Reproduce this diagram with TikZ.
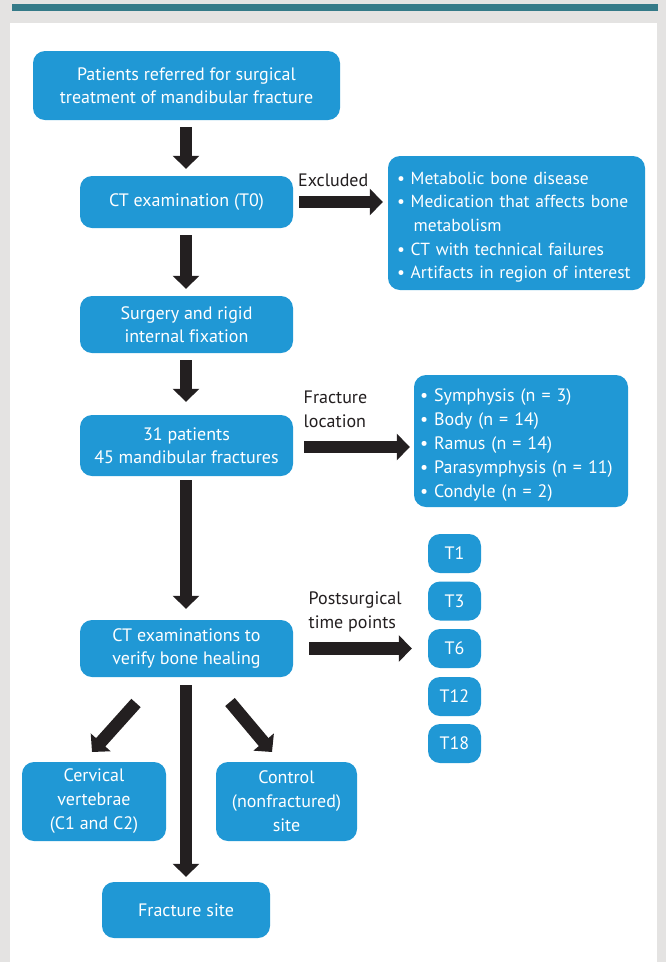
\documentclass[tikz,border=0pt]{standalone}
\usepackage{fontspec}
\setmainfont[Ligatures=CommonOff]{PT Sans}
\usetikzlibrary{arrows.meta,calc}
\definecolor{boxblue}{HTML}{2098D5}
\definecolor{tealbar}{HTML}{347A88}
\definecolor{bggray}{HTML}{E4E3E2}
\definecolor{arrowblack}{HTML}{231F20}
\hbadness=10000 \hfuzz=50pt
\begin{document}
\begin{tikzpicture}[x=1pt,y=-1pt,
  box/.style={fill=boxblue, rounded corners=12pt, text=white, align=center, inner sep=0pt,
    font=\fontsize{18}{23.5}\selectfont},
  tbox/.style={box, minimum width=53pt, minimum height=39pt},
  bigarrow/.style={draw=arrowblack, line width=12.5pt, -{Triangle[length=13pt,width=26pt]}},
  lbl/.style={anchor=west, align=left, text=arrowblack, inner sep=0pt, font=\fontsize{18}{24}\selectfont}
]
\fill[bggray] (0,0) rectangle (666,962);
\fill[tealbar] (11.5,3.5) rectangle (657.5,11);
\fill[white] (10,22.5) rectangle (657,962);
\useasboundingbox (0,0) rectangle (666,962);

\node[box, minimum width=307pt, minimum height=69pt] (n1) at (186.5,85.5) {Patients referred for surgical\\treatment of mandibular fracture};
\node[box, minimum width=213pt, minimum height=52pt] (n2) at (186.5,202) {CT examination (T0)};
\node[box, minimum width=257pt, minimum height=134pt, text width=239pt, align=left, font=\fontsize{17.5}{23.7}\selectfont] (n3) at (516.5,223)
  {\mbox{\rule{0pt}{20.5pt}• Metabolic bone disease}\\\mbox{• Medication that affects bone}\\\mbox{\phantom{•\ }\,metabolism}\\\mbox{• CT with technical failures}\\\mbox{• Artifacts in region of interest}};
\node[box, minimum width=213pt, minimum height=57pt] (n4) at (186.5,324.5) {Surgery and rigid\\internal fixation};
\node[box, minimum width=213pt, minimum height=61pt] (n5) at (186.5,445.5) {31 patients\\45 mandibular fractures};
\node[box, minimum width=214pt, minimum height=132pt, text width=202pt, align=left, font=\fontsize{18}{24}\selectfont] (n6) at (521,441)
  {\mbox{\rule{0pt}{21pt}• Symphysis (n = 3)}\\\mbox{• Body (n = 14)}\\\mbox{• Ramus (n = 14)}\\\mbox{• Parasymphysis (n = 11)}\\\mbox{• Condyle (n = 2)}};
\node[box, minimum width=213pt, minimum height=57pt] (n7) at (186.5,648.5) {CT examinations to\\verify bone healing};
\node[tbox] (t1) at (454.5,553.5) {T1};
\node[tbox] (t3) at (454.5,601) {T3};
\node[tbox] (t6) at (454.5,648.5) {T6};
\node[tbox] (t12) at (454.5,696.5) {T12};
\node[tbox] (t18) at (454.5,743.5) {T18};
\node[box, minimum width=144pt, minimum height=79pt, font=\fontsize{18}{24}\selectfont] (n9) at (94,801.5) {Cervical\\vertebrae\\(C1 and C2)};
\node[box, minimum width=141pt, minimum height=79pt, font=\fontsize{18}{24}\selectfont] (n10) at (286.5,801.5) {Control\\(nonfractured)\\site};
\node[box, minimum width=168pt, minimum height=56pt] (n11) at (186,910) {Fracture site};

\node[lbl] (l1) at (298,180) {Excluded};
\node[lbl] (l2) at (303.5,409) {Fracture\\location};
\node[lbl] (l3) at (308.5,612) {Postsurgical\\time points};

\draw[bigarrow, shorten <=7pt, shorten >=7pt] ([xshift=-0.5pt]n1.south) -- ([xshift=-0.5pt]n2.north);
\draw[bigarrow, shorten <=7pt, shorten >=7pt] ([xshift=-0.5pt]n2.south) -- ([xshift=-0.5pt]n4.north);
\draw[bigarrow, shorten <=7pt, shorten >=13pt] ([xshift=-0.5pt]n4.south) -- ([xshift=-0.5pt]n5.north);
\draw[bigarrow, shorten <=4pt, shorten >=11pt] ([xshift=-0.5pt]n5.south) -- ([xshift=-0.5pt]n7.north);
\draw[bigarrow, shorten <=6pt, shorten >=5pt] (n2.east) -- (n2.east -| n3.west);
\draw[bigarrow, shorten <=11pt, shorten >=4pt] ([yshift=-1.5pt]n5.east) -- ([yshift=-1.5pt]n5.east -| n6.west);
\draw[bigarrow, shorten <=16pt, shorten >=16pt] (n7.east) -- (t6.west);
\draw[bigarrow, shorten <=8pt, shorten >=5pt] ([xshift=-0.5pt]n7.south) -- (n11.north);
\coordinate (dl0) at (136,703);
\coordinate (dl1) at (92,752);
\coordinate (dr0) at (230,702);
\coordinate (dr1) at (272,752);
\draw[bigarrow] (dl0) -- (dl1);
\draw[bigarrow] (dr0) -- (dr1);
\end{tikzpicture}
\end{document}
